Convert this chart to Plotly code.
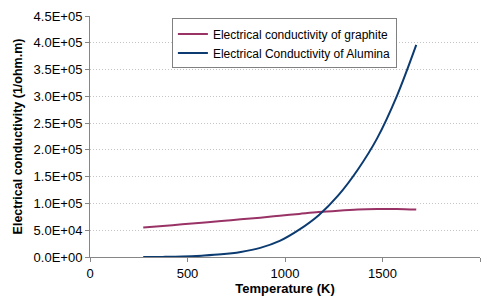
import plotly.graph_objects as go

temperature = [273, 373, 473, 573, 673, 773, 873, 973, 1073, 1173, 1273, 1373, 1473, 1573, 1673]
graphite = [55000, 58000, 61000, 64000, 67000, 70500, 73500, 77000, 80500, 84000, 86500, 88500, 89500, 89800, 88500]
alumina = [0, 200, 800, 2500, 5000, 9500, 17000, 30000, 51000, 78000, 115000, 163000, 222000, 300000, 396000]

y_ticks = [0, 50000, 100000, 150000, 200000, 250000, 300000, 350000, 400000, 450000]
y_ticktext = ["0.0E+00", "5.0E+04", "1.0E+05", "1.5E+05", "2.0E+05", "2.5E+05",
              "3.0E+05", "3.5E+05", "4.0E+05", "4.5E+05"]
x_ticks = [0, 500, 1000, 1500, 2000]

font_family = "Liberation Sans, Arial, sans-serif"

fig = go.Figure()
fig.add_trace(go.Scatter(x=temperature, y=graphite, mode="lines", line_shape="spline",
                         name="Electrical conductivity of graphite",
                         line=dict(color="#993366", width=2)))
fig.add_trace(go.Scatter(x=temperature, y=alumina, mode="lines", line_shape="spline",
                         name="Electrical Conductivity of Alumina",
                         line=dict(color="#0B3B70", width=2)))

fig.update_layout(
    width=493, height=302,
    margin=dict(l=90, r=13, t=16, b=45, autoexpand=False),
    paper_bgcolor="white", plot_bgcolor="white",
    font=dict(family=font_family, size=13, color="black"),
    showlegend=True,
    legend=dict(x=0.21, y=0.99, xanchor="left", yanchor="top",
                bgcolor="white", bordercolor="#808080", borderwidth=1,
                font=dict(size=12), tracegroupgap=0, itemwidth=30),
)
fig.update_xaxes(range=[0, 2000], tickvals=x_ticks, showgrid=False, automargin=False,
                 showline=True, linecolor="#868686", linewidth=1,
                 ticks="outside", ticklen=4, tickcolor="#868686",
                 zeroline=False, tickfont=dict(size=13),
                 title=dict(text="<b>Temperature (K)</b>", font=dict(size=13), standoff=4))
fig.update_yaxes(range=[0, 450000], tickvals=y_ticks, ticktext=y_ticktext, automargin=False,
                 showgrid=True, gridcolor="#C4C4C4", griddash="1px,2px", gridwidth=1,
                 showline=True, linecolor="#868686", linewidth=1,
                 ticks="outside", ticklen=4, tickcolor="#868686",
                 zeroline=False, tickfont=dict(size=13),
                 title=dict(text="<b>Electrical conductivity (1/ohm.m)</b>", font=dict(size=12.5), standoff=8))

fig.write_html("out.html", config={"displayModeBar": False},
               post_script="document.body.style.margin='0';")
